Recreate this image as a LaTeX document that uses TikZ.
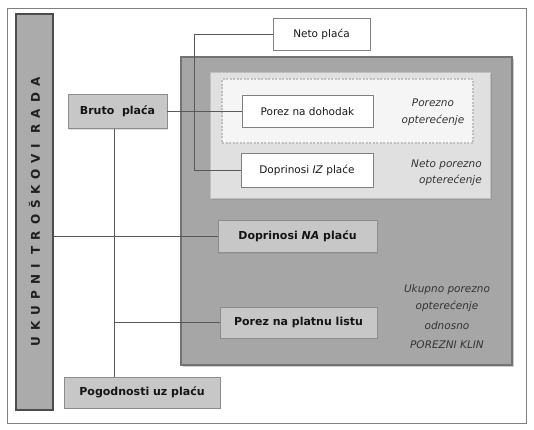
\documentclass[tikz,border=0pt]{standalone}
\usepackage{fontspec}
\setmainfont{DejaVu Sans}
\usetikzlibrary{shadows,positioning}

\begin{document}
\begin{tikzpicture}[
  x=1pt, y=-1pt,
  every node/.style={inner sep=0pt},
  block/.style={
    rectangle,
    draw=black!45,
    fill=black!22,
    text=black!92,
    font=\bfseries\fontsize{11}{13}\selectfont,
    drop shadow={shadow xshift=1pt, shadow yshift=-1pt, opacity=0.25}
  },
  whitebox/.style={
    rectangle,
    draw=black!50,
    fill=white,
    text=black!90,
    font=\fontsize{10.5}{13}\selectfont
  },
  note/.style={
    text=black!80,
    align=center,
    font=\itshape\fontsize{10.5}{16.5}\selectfont
  },
  link/.style={draw=black!65, line width=1pt}
]

\useasboundingbox (0,0) rectangle (534,429);
\draw[black!50, line width=0.8pt] (7,8) rectangle (526,423);

% --- UKUPNI TROSKOVI RADA ------------------------------------------
\node[rectangle, draw=black!70, line width=1.2pt, fill=black!33,
      minimum width=37pt, minimum height=396pt] (bar) at (34.5,212) {};
\node[rotate=90, text=black!88, font=\bfseries\fontsize{12}{14}\selectfont]
  (bartext) at (bar.center) {\addfontfeature{LetterSpace=50}UKUPNI TROŠKOVI RADA};

% --- POREZNI KLIN --------------------------------------------------
\node[rectangle, draw=black!55, line width=2.5pt, fill=black!35,
      minimum width=331pt, minimum height=308pt,
      drop shadow={shadow xshift=2pt, shadow yshift=-2pt, opacity=0.4}]
  (klin) at (346.5,211) {};

% --- NETO POREZNO OPTERECENJE --------------------------------------
\node[rectangle, draw=black!25, line width=1pt, fill=black!12,
      minimum width=280pt, minimum height=126pt,
      drop shadow={shadow xshift=1.5pt, shadow yshift=-1.5pt, opacity=0.3}]
  (netoopt) at (350,135) {};

% --- POREZNO OPTERECENJE -------------------------------------------
\node[rectangle, draw=black!25, line width=2pt, dash pattern=on 2pt off 1.5pt,
      fill=black!4, minimum width=251pt, minimum height=64pt]
  (poropt) at (347.5,111) {};

% --- OKVIRI --------------------------------------------------------
\node[block, minimum width=99pt, minimum height=34pt] (bruto) at (117.5,111.5) {Bruto~~plaća};
\node[whitebox, minimum width=97pt, minimum height=32pt] (neto) at (321.5,34) {Neto plaća};
\node[whitebox, minimum width=131pt, minimum height=32pt] (dohodak) at (307.5,111.5) {Porez na dohodak};
\node[whitebox, minimum width=132pt, minimum height=34pt] (izplace) at (307,170) {Doprinosi \textit{IZ} plaće};
\node[block, minimum width=159pt, minimum height=32pt] (naplacu) at (297.5,236.5) {Doprinosi \textit{NA} plaću};
\node[block, minimum width=157pt, minimum height=31pt] (platna) at (298.5,322.5) {Porez na platnu listu};
\node[block, minimum width=156pt, minimum height=31pt] (pogodnosti) at (142,392.5) {Pogodnosti uz plaću};

% --- OZNAKE --------------------------------------------------------
\node[note] (porlabel) at (433,112.5) {Porezno\\opterećenje};
\node[note, align=right, anchor=east] (netolabel) at (482,173) {Neto porezno\\opterećenje};
\node[note, font=\itshape\fontsize{10.5}{17}\selectfont] (klinlabel) at (447,317)
  {Ukupno porezno\\opterećenje\\[3pt]odnosno\\[2pt]POREZNI KLIN};

% --- VEZE ----------------------------------------------------------
\coordinate (trunk) at (114,0);
\draw[link] (bruto.east) -- (dohodak.west);
\draw[link] (neto.west) -- ++(-78,0) |- (izplace.west);
\draw[link] (trunk |- bruto.south) -- (trunk |- pogodnosti.north);
\draw[link] (trunk |- platna.west) -- (platna.west);
\draw[link] (bar.east |- naplacu.west) -- (naplacu.west);

\end{tikzpicture}
\end{document}
